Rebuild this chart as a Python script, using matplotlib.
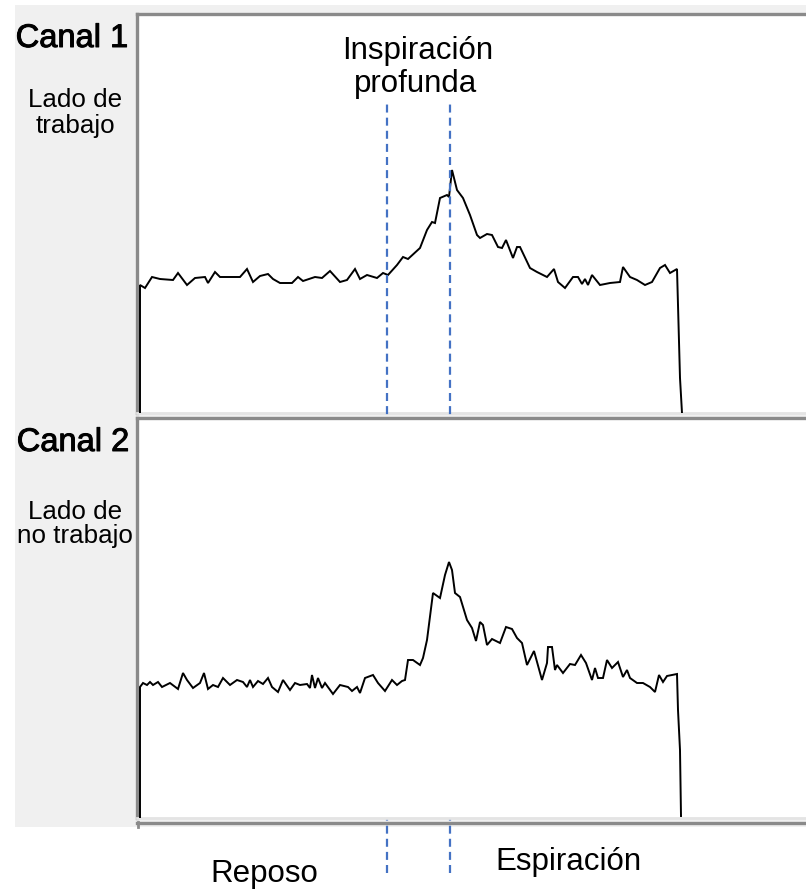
import matplotlib
matplotlib.use("Agg")
import matplotlib.pyplot as plt
from matplotlib.patches import Rectangle
from matplotlib.lines import Line2D
import matplotlib.patheffects as pe

# ---------------- data (arbitrary time units / amplitude units) ----------------
ch1_t = [3, 3, 8, 15, 23, 36, 41, 50, 58, 68, 71, 78, 83, 93, 103, 110, 116, 123, 131, 136,
         143, 155, 161, 166, 178, 185, 193, 203, 210, 218, 223, 230, 240, 246, 251, 260, 266,
         271, 283, 290, 295, 298, 303, 310, 312, 315, 320, 326, 333, 340, 343, 350, 355, 361,
         365, 369, 376, 380, 383, 393, 400, 410, 417, 421, 428, 436, 441, 445, 448, 451, 455,
         463, 473, 483, 486, 493, 500, 508, 515, 523, 528, 533, 540, 541, 543, 545]
ch1_amp = [0, 128, 125, 136, 134, 133, 140, 128, 135, 136, 130, 141, 136, 136, 136, 144, 131,
           137, 139, 134, 130, 130, 136, 132, 136, 135, 142, 131, 133, 144, 134, 138, 135, 140,
           138, 148, 156, 154, 165, 183, 191, 190, 215, 218, 216, 243, 223, 215, 198, 178, 175,
           179, 178, 166, 165, 173, 155, 166, 166, 145, 141, 136, 144, 131, 125, 136, 136, 129,
           134, 128, 138, 128, 130, 131, 146, 136, 133, 128, 131, 145, 148, 140, 144, 108, 35, 0]

ch2_t = [3, 3, 6, 10, 13, 16, 21, 25, 33, 41, 46, 50, 56, 63, 67, 71, 76, 81, 86, 93, 100,
         106, 110, 113, 116, 121, 126, 131, 135, 141, 146, 153, 158, 163, 170, 173, 175, 178,
         181, 185, 188, 196, 203, 211, 215, 220, 223, 228, 236, 241, 248, 255, 260, 265, 268,
         271, 276, 283, 286, 290, 296, 303, 308, 312, 315, 318, 323, 330, 335, 339, 343, 346,
         350, 355, 363, 369, 375, 380, 385, 390, 397, 405, 410, 411, 415, 418, 420, 426, 433,
         438, 444, 449, 455, 458, 461, 466, 470, 475, 481, 486, 490, 493, 500, 506, 513, 518,
         522, 526, 530, 540, 541, 543, 544]
ch2_amp = [0, 131, 135, 133, 136, 133, 136, 131, 135, 129, 145, 138, 130, 135, 145, 129, 133,
           131, 140, 133, 138, 136, 131, 138, 131, 137, 134, 140, 131, 126, 138, 128, 135, 133,
           134, 130, 143, 130, 140, 130, 135, 124, 133, 131, 127, 131, 125, 140, 143, 135, 127,
           138, 133, 137, 138, 158, 158, 153, 160, 178, 225, 220, 243, 256, 248, 225, 221, 198,
           190, 177, 196, 193, 173, 179, 175, 191, 189, 180, 175, 153, 167, 138, 155, 171, 171,
           148, 153, 145, 154, 153, 163, 155, 138, 150, 140, 140, 158, 150, 156, 141, 148, 140,
           135, 135, 131, 126, 143, 136, 142, 144, 108, 68, 2]

event_t = [250, 313]          # start of deep inspiration / peak (start of expiration)
channel_titles = ["Canal 1", "Canal 2"]
channel_sides = [["Lado de", "trabajo"], ["Lado de", "no trabajo"]]
top_label = ["Inspiración", "profunda"]
phase_labels = ["Reposo", "Espiración"]

# ---------------- figure ----------------
W, H = 806, 890
fig = plt.figure(figsize=(W / 100, H / 100), dpi=100)
fig.patch.set_facecolor("white")
FONT = "Liberation Sans"


def fx(px):
    return px / W


def fy(py):
    return 1 - py / H


# window-grey background
fig.add_artist(Rectangle((fx(15), fy(827)), fx(806) - fx(15), fy(5) - fy(827),
                         transform=fig.transFigure, facecolor="#f0f0f0",
                         edgecolor="none", zorder=0))

XMAX = 669
panels = [
    dict(top=14, bottom=413, t=ch1_t, a=ch1_amp),
    dict(top=418, bottom=818, t=ch2_t, a=ch2_amp),
]
axes = []
for p in panels:
    ax = fig.add_axes([fx(137), fy(p["bottom"]), fx(806) - fx(137),
                       (p["bottom"] - p["top"]) / H])
    ax.set_facecolor("white")
    ax.plot(p["t"], p["a"], color="black", lw=1.4, solid_joinstyle="miter", zorder=3)
    ax.set_xlim(0, XMAX)
    ax.set_ylim(0, p["bottom"] - p["top"])
    ax.set_xticks([])
    ax.set_yticks([])
    for side in ["left", "top"]:
        ax.spines[side].set_color("#8a8a8a")
        ax.spines[side].set_linewidth(2.4)
    ax.spines["bottom"].set_color("#e4e4e4")
    ax.spines["bottom"].set_linewidth(2.0)
    ax.spines["right"].set_visible(False)
    axes.append(ax)

# third (empty) panel border at the bottom
fig.add_artist(Line2D([fx(137), fx(806)], [fy(822.5), fy(822.5)], transform=fig.transFigure,
                      color="#8a8a8a", lw=2.4, zorder=1))
fig.add_artist(Line2D([fx(138), fx(138)], [fy(822), fy(827)], transform=fig.transFigure,
                      color="#8a8a8a", lw=2.0, zorder=1))

# event lines drawn in the first panel, extended across both panels
ax0 = axes[0]
h0 = panels[0]["bottom"] - panels[0]["top"]
ymax = (panels[0]["bottom"] - 100) / h0
ymin = (panels[0]["bottom"] - 873) / h0
for t in event_t:
    ax0.axvline(t, ymin=ymin, ymax=ymax, color="#4472C4", lw=1.6,
                linestyle=(0, (3.6, 2.3)), clip_on=False, zorder=5)

heavy = [pe.withStroke(linewidth=0.7, foreground="black")]

# left labels
fig.text(fx(72), fy(47), channel_titles[0], fontsize=23.5, family=FONT, ha="center",
         va="baseline", path_effects=heavy)
fig.text(fx(75), fy(107), channel_sides[0][0], fontsize=18.7, family=FONT, ha="center",
         va="baseline")
fig.text(fx(75), fy(133), channel_sides[0][1], fontsize=18.7, family=FONT, ha="center",
         va="baseline")
fig.text(fx(73), fy(451), channel_titles[1], fontsize=23.5, family=FONT, ha="center",
         va="baseline", path_effects=heavy)
fig.text(fx(75), fy(519), channel_sides[1][0], fontsize=18.7, family=FONT, ha="center",
         va="baseline")
fig.text(fx(74.5), fy(543), channel_sides[1][1], fontsize=18.7, family=FONT, ha="center",
         va="baseline")

# annotations
fig.text(fx(417.5), fy(59), top_label[0], fontsize=22.5, family=FONT, ha="center",
         va="baseline", zorder=6)
fig.text(fx(416), fy(92), top_label[1], fontsize=22.5, family=FONT, ha="center",
         va="baseline", zorder=6)
fig.text(fx(264), fy(882), phase_labels[0], fontsize=22.5, family=FONT, ha="center",
         va="baseline")
fig.text(fx(495), fy(870), phase_labels[1], fontsize=22.5, family=FONT, ha="left",
         va="baseline")

fig.savefig("out.png", dpi=100, facecolor=fig.get_facecolor())
